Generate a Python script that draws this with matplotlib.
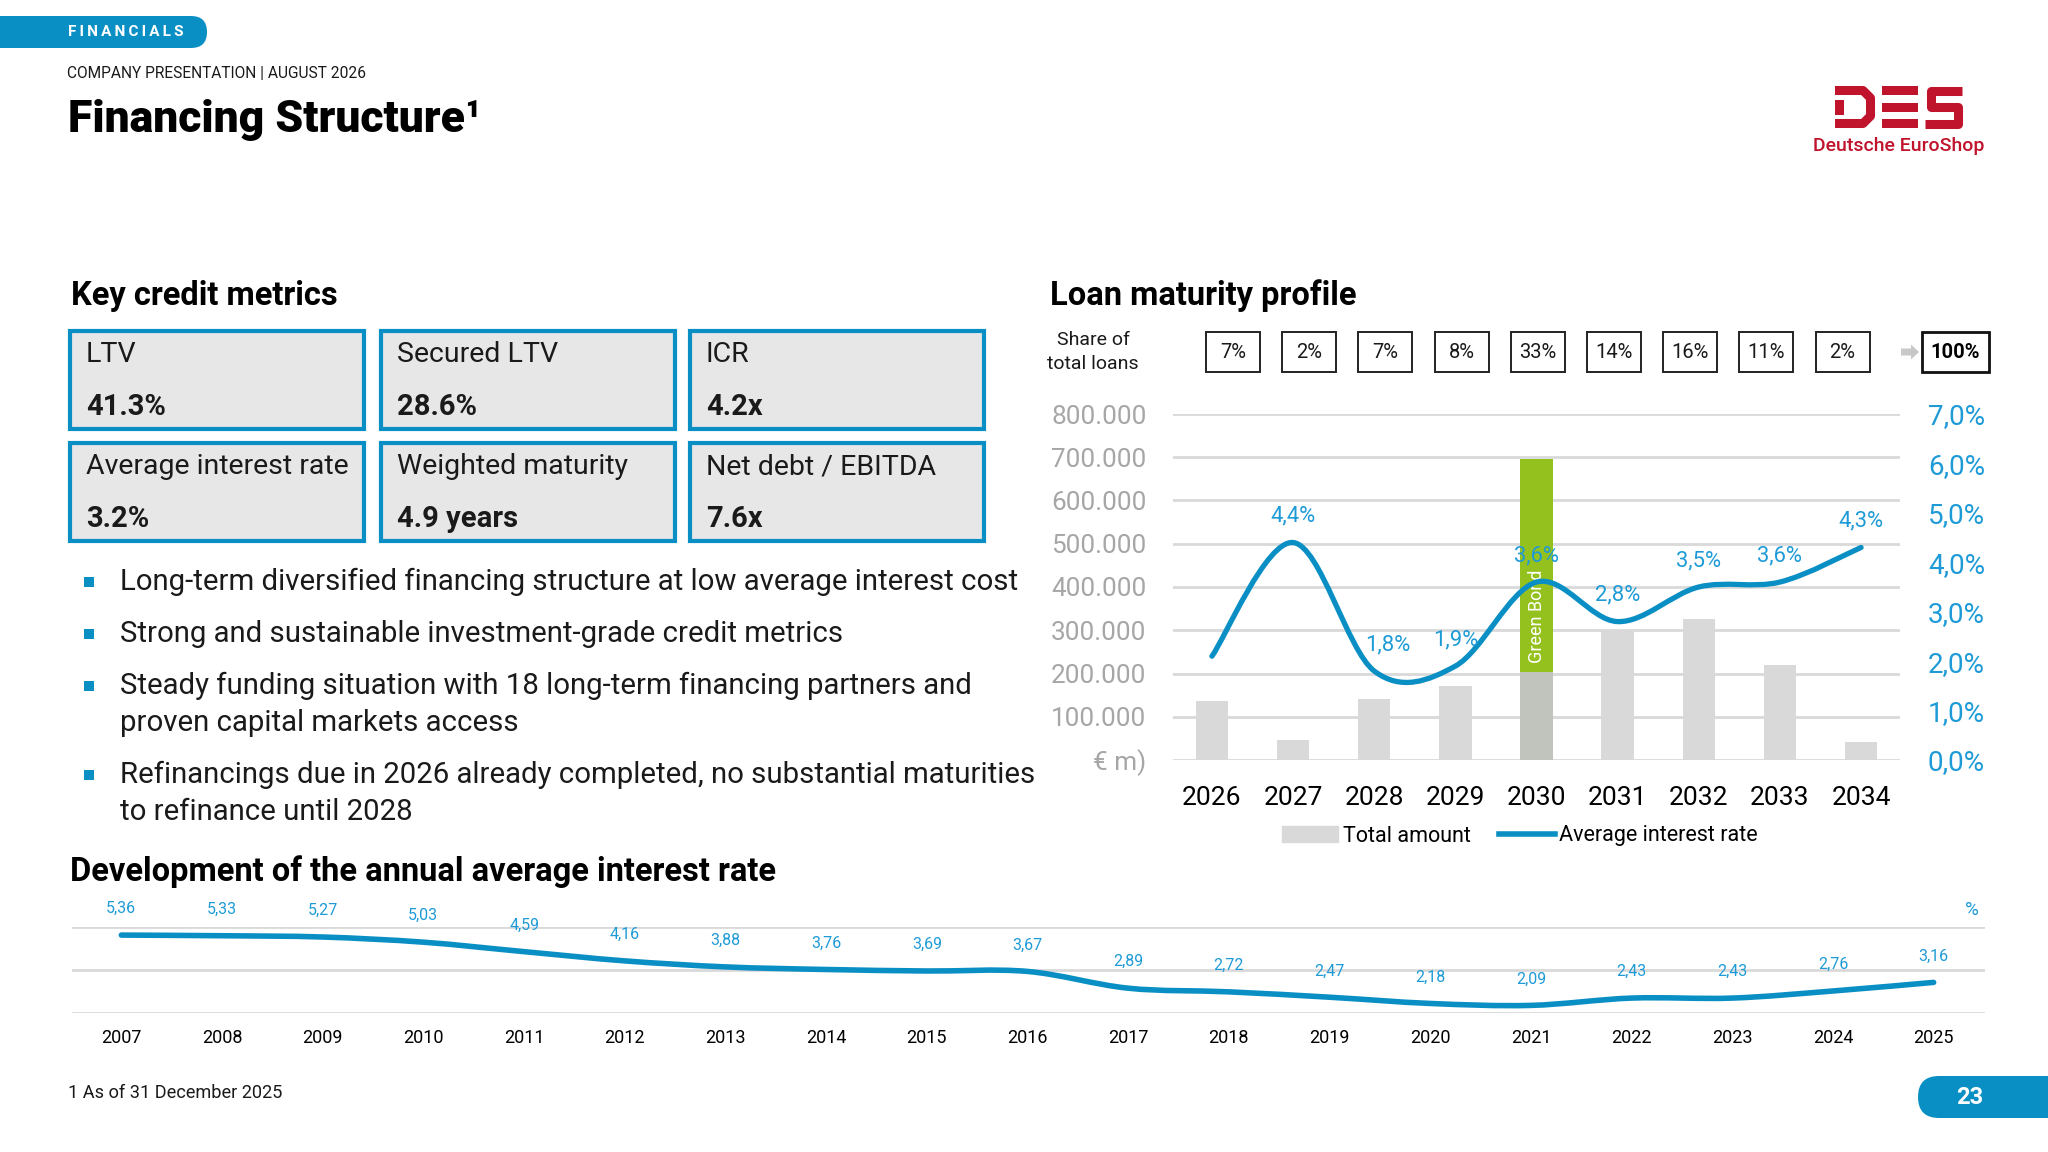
import numpy as np
import matplotlib
matplotlib.use("Agg")
import matplotlib.pyplot as plt
from matplotlib.patches import Rectangle, FancyBboxPatch, FancyArrow, PathPatch, Patch
from matplotlib.path import Path
from matplotlib.lines import Line2D

plt.rcParams['font.family'] = ['Roboto', 'DejaVu Sans']

# --- Daten ---
metric_labels = ['LTV', 'Secured LTV', 'ICR',
                 'Average interest rate', 'Weighted maturity', 'Net debt / EBITDA']
metric_values = ['41.3%', '28.6%', '4.2x', '3.2%', '4.9 years', '7.6x']

bullets = [
    'Long-term diversified financing structure at low average interest cost',
    'Strong and sustainable investment-grade credit metrics',
    'Steady funding situation with 18 long-term financing partners and\nproven capital markets access',
    'Refinancings due in 2026 already completed, no substantial maturities\nto refinance until 2028',
]

loan_years = [2026, 2027, 2028, 2029, 2030, 2031, 2032, 2033, 2034]
loan_amounts = [137000, 46000, 141000, 172000, 697000, 300000, 326000, 220000, 41000]
green_bond = [0, 0, 0, 0, 494000, 0, 0, 0, 0]
loan_rates = [2.1, 4.4, 1.8, 1.9, 3.6, 2.8, 3.5, 3.6, 4.3]
loan_rate_labels = ['', '4,4%', '1,8%', '1,9%', '3,6%', '2,8%', '3,5%', '3,6%', '4,3%']
share_labels = ['7%', '2%', '7%', '8%', '33%', '14%', '16%', '11%', '2%']
share_total = '100%'

hist_years = [2007, 2008, 2009, 2010, 2011, 2012, 2013, 2014, 2015, 2016,
              2017, 2018, 2019, 2020, 2021, 2022, 2023, 2024, 2025]
hist_rates = [5.36, 5.33, 5.27, 5.03, 4.59, 4.16, 3.88, 3.76, 3.69, 3.67,
              2.89, 2.72, 2.47, 2.18, 2.09, 2.43, 2.43, 2.76, 3.16]

# --- Farben ---
BLUE = '#0a8fc4'
LBLUE = '#1e9bd7'
RED = '#c0132c'
GRID = '#d9d9d9'
BAR = '#d9d9d9'
GREEN = '#95c11f'
DARK = '#1a1a1a'

W, H = 2048, 1152


def smooth_line(ax, xs, ys, **kw):
    # geglaettete Linie wie in Excel (Catmull-Rom -> Bezier)
    xs = np.asarray(xs, float)
    ys = np.asarray(ys, float)
    n = len(xs)
    verts = [(xs[0], ys[0])]
    codes = [Path.MOVETO]
    for i in range(n - 1):
        a = max(i - 1, 0)
        d = min(i + 2, n - 1)
        verts.append((xs[i] + (xs[i + 1] - xs[a]) / 6, ys[i] + (ys[i + 1] - ys[a]) / 6))
        verts.append((xs[i + 1] - (xs[d] - xs[i]) / 6, ys[i + 1] - (ys[d] - ys[i]) / 6))
        verts.append((xs[i + 1], ys[i + 1]))
        codes += [Path.CURVE4] * 3
    ax.add_patch(PathPatch(Path(verts, codes), fill=False, capstyle='round',
                           joinstyle='round', **kw))


fig = plt.figure(figsize=(W / 100, H / 100), dpi=100)

# Hintergrund-Achse in Pixelkoordinaten
bg = fig.add_axes([0, 0, 1, 1])
bg.set_xlim(0, W)
bg.set_ylim(H, 0)
bg.axis('off')

# Kopfzeile
bg.add_patch(FancyBboxPatch((-40, 16), 247, 32, boxstyle='round,pad=0,rounding_size=16',
                            fc=BLUE, ec='none'))
bg.text(68, 32, '\u2009'.join('FINANCIALS'), color='white', fontsize=11,
        fontweight='bold', va='center', ha='left')
bg.text(67, 73, 'COMPANY PRESENTATION | AUGUST 2026', color=DARK, fontsize=11.2,
        va='center', ha='left')
bg.text(68, 120, 'Financing Structure¹', color='black', fontsize=32, fontweight='black',
        va='center', ha='left')

# Logo (D E S aus Balken)
lw_logo = 6.5
bg.plot([1835, 1863, 1870.5, 1870.5, 1863, 1835], [90.5, 90.5, 98, 116, 123.5, 123.5],
        color=RED, lw=lw_logo, solid_joinstyle='round', solid_capstyle='butt')
bg.add_patch(Rectangle((1835, 99.5), 9, 15, fc=RED, ec='none'))
for yb in [86, 102.5, 119]:
    bg.add_patch(Rectangle((1882, yb), 36, 9, fc=RED, ec='none'))
bg.plot([1962, 1931, 1931, 1957.5, 1957.5, 1925], [90.5, 90.5, 107, 107, 123.5, 123.5],
        color=RED, lw=lw_logo, solid_joinstyle='round', solid_capstyle='butt')
bg.text(1899, 146, 'Deutsche EuroShop', color=RED, fontsize=14, fontweight='medium',
        va='center', ha='center')

# Key credit metrics
bg.text(71, 296, 'Key credit metrics', color='black', fontsize=23.5, fontweight='bold',
        va='center', ha='left')
box_x = [70, 381, 690]
box_y = [331, 443]
for k, (lab, val) in enumerate(zip(metric_labels, metric_values)):
    x0 = box_x[k % 3]
    y0 = box_y[k // 3]
    bg.add_patch(Rectangle((x0, y0), 294, 98, fc='#e7e7e7', ec=BLUE, lw=3))
    bg.text(x0 + 16, y0 + 24, lab, color=DARK, fontsize=20.5, va='center', ha='left')
    bg.text(x0 + 16, y0 + 76, val, color=DARK, fontsize=21, fontweight='bold',
            va='center', ha='left')

# Aufzaehlung
line_y = 582
for b in bullets:
    bg.add_patch(Rectangle((84, line_y - 5), 10, 10, fc=BLUE, ec='none'))
    for j, part in enumerate(b.split('\n')):
        bg.text(120, line_y + j * 37, part, color=DARK, fontsize=21.2, va='center', ha='left')
    line_y += 52 + 37 * (len(b.split('\n')) - 1)

# Loan maturity profile
bg.text(1050, 296, 'Loan maturity profile', color='black', fontsize=23.5, fontweight='bold',
        va='center', ha='left')
bg.text(1093, 352, 'Share of\ntotal loans', color=DARK, fontsize=14, va='center',
        ha='center', linespacing=1.45)
for i, s in enumerate(share_labels):
    cx = 1233 + i * 76.2
    bg.add_patch(Rectangle((cx - 27, 332), 54, 40, fc='white', ec='#222222', lw=1.4))
    bg.text(cx, 352, s, color=DARK, fontsize=14.5, va='center', ha='center')
bg.add_patch(FancyArrow(1901, 352, 10, 0, width=7, head_width=15, head_length=8,
                        fc='#c8c8c8', ec='none'))
bg.add_patch(Rectangle((1922, 332), 67, 40, fc='white', ec='#111111', lw=2))
bg.text(1955.5, 352, share_total, color='black', fontsize=14.5, fontweight='bold',
        va='center', ha='center')

ax = fig.add_axes([1173 / W, 1 - 760 / H, (1900 - 1173) / W, (760 - 414) / H])
base = [a - g for a, g in zip(loan_amounts, green_bond)]
base_cols = ['#c0c4bd' if g > 0 else BAR for g in green_bond]
ax.bar(loan_years, base, width=0.4, color=base_cols, zorder=2)
ax.bar(loan_years, green_bond, bottom=base, width=0.4, color=GREEN, zorder=2)
for yr, g, b0 in zip(loan_years, green_bond, base):
    if g > 0:
        ax.text(yr, b0 + g * 0.26, 'Green Bond', rotation=90, color='white', fontsize=13,
                ha='center', va='center', zorder=3)
ax.set_xlim(2025.52, 2034.48)
ax.set_ylim(0, 800000)
yt = np.arange(0, 800001, 100000)
ax.set_yticks(yt)
ax.set_yticklabels(['€ m)'] + [f'{v:,.0f}'.replace(',', '.') for v in yt[1:]])
ax.set_xticks(loan_years)
ax.set_xticklabels([str(y) for y in loan_years])
ax.tick_params(axis='y', length=0, pad=19, labelsize=18.8, labelcolor='#a6a6a6')
ax.tick_params(axis='x', length=0, pad=18.5, labelsize=19, labelcolor='black')
ax.grid(axis='y', color=GRID, lw=2)
ax.set_axisbelow(True)
for sp in ax.spines.values():
    sp.set_visible(False)

axr = ax.twinx()
axr.set_ylim(0, 7)
axr.set_yticks(np.arange(0, 8))
axr.set_yticklabels([f'{v:.1f}%'.replace('.', ',') for v in np.arange(0, 8)])
axr.tick_params(axis='y', length=0, pad=20, labelsize=20, labelcolor=LBLUE)
for sp in axr.spines.values():
    sp.set_visible(False)
smooth_line(axr, loan_years, loan_rates, ec=BLUE, lw=3.8, zorder=4)
for yr, r, lbl in zip(loan_years, loan_rates, loan_rate_labels):
    if lbl:
        dx = 10 if yr == 2028 else 0
        axr.annotate(lbl, (yr, r), xytext=(dx, 19), textcoords='offset points',
                     ha='center', va='center', color=LBLUE, fontsize=15.8, zorder=5)
axr.set_xlim(2025.52, 2034.48)

fig.legend(handles=[Patch(color=BAR, label='Total amount'),
                    Line2D([], [], color=BLUE, lw=4, label='Average interest rate')],
           loc='center', bbox_to_anchor=(1520 / W, 1 - 836 / H), ncol=2, frameon=False,
           fontsize=15.5, handlelength=2.6, columnspacing=1.3, handletextpad=0.2)

# Entwicklung des durchschnittlichen Zinssatzes
bg.text(70, 872, 'Development of the annual average interest rate', color='black',
        fontsize=23.5, fontweight='bold', va='center', ha='left')
ax2 = fig.add_axes([72 / W, 1 - 1012.7 / H, (1985 - 72) / W, (1012.7 - 926.7) / H])
smooth_line(ax2, hist_years, hist_rates, ec=BLUE, lw=4, zorder=3)
for yr, r in zip(hist_years, hist_rates):
    ax2.annotate(f'{r:.2f}'.replace('.', ','), (yr, r), xytext=(0, 19),
                 textcoords='offset points', ha='center', va='center', color=LBLUE,
                 fontsize=11.5)
ax2.set_xlim(2006.51, 2025.51)
ax2.set_ylim(1.75, 5.75)
ax2.set_yticks([1.75, 3.75, 5.75])
ax2.set_yticklabels([])
ax2.set_xticks(hist_years)
ax2.set_xticklabels([str(y) for y in hist_years])
ax2.tick_params(axis='y', length=0)
ax2.tick_params(axis='x', length=0, pad=11.5, labelsize=13, labelcolor='black')
ax2.grid(axis='y', color=GRID, lw=2)
ax2.set_axisbelow(True)
for sp in ax2.spines.values():
    sp.set_visible(False)
bg.text(1972, 910, '%', color=LBLUE, fontsize=13.5, va='center', ha='center')

# Fusszeile
bg.text(68, 1093, '1 As of 31 December 2025', color=DARK, fontsize=13.1, va='center', ha='left')
bg.add_patch(FancyBboxPatch((1918, 1076), 200, 42, boxstyle='round,pad=0,rounding_size=21',
                            fc=BLUE, ec='none'))
bg.text(1970, 1097, '23', color='white', fontsize=17, fontweight='bold', va='center', ha='center')

fig.savefig('out.png', dpi=100)
